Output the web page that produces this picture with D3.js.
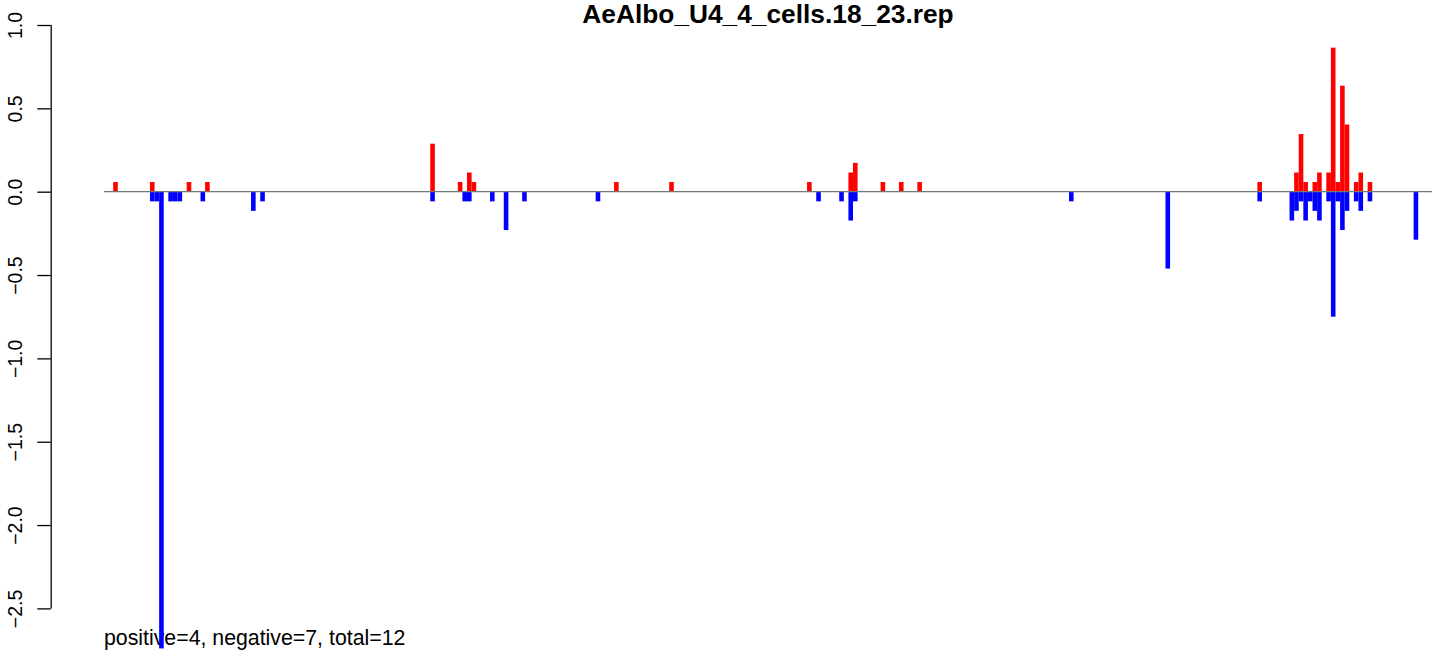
<!DOCTYPE html>
<html>
<head>
<meta charset="utf-8">
<script src="https://cdn.jsdelivr.net/npm/d3@7"></script>
<style>
  html, body { margin: 0; padding: 0; background: #fff; }
  svg { display: block; }
  text { font-family: "Liberation Sans", Arial, Helvetica, sans-serif; }
</style>
</head>
<body>
<svg id="chart" width="1444" height="656"></svg>
<script>
// ---- data ----
const title = "AeAlbo_U4_4_cells.18_23.rep";
const footnote = "positive=4, negative=7, total=12";

// bin index and value of positive (red) bars
const posBins = [0, 8, 16, 20, 69, 75, 77, 78, 109, 121, 151, 160, 161, 167, 171, 175,
                 249, 257, 258, 259, 261, 262, 264, 265, 266, 267, 268, 270, 271, 273];
const posValues = [0.058, 0.058, 0.058, 0.058, 0.288, 0.058, 0.115, 0.058, 0.058, 0.058,
                   0.058, 0.115, 0.173, 0.058, 0.058, 0.058,
                   0.058, 0.115, 0.346, 0.058, 0.058, 0.115, 0.115, 0.864, 0.058, 0.636,
                   0.403, 0.058, 0.115, 0.058];

// bin index and value of negative (blue) bars
const negBins = [8, 9, 10, 12, 13, 14, 19, 30, 32, 69, 76, 77, 82, 85, 89, 105, 153, 158,
                 160, 161, 208, 229, 249, 256, 257, 258, 259, 260, 261, 262, 264, 265,
                 266, 267, 268, 270, 271, 273, 283];
const negValues = [-0.058, -0.058, -2.74, -0.058, -0.058, -0.058, -0.058, -0.115, -0.058,
                   -0.058, -0.058, -0.058, -0.058, -0.23, -0.058, -0.058, -0.058, -0.058,
                   -0.173, -0.058, -0.058, -0.461, -0.058, -0.173, -0.115, -0.058, -0.173,
                   -0.058, -0.115, -0.173, -0.058, -0.75, -0.058, -0.23, -0.115, -0.058,
                   -0.115, -0.058, -0.288];

const yTicks = [-2.5, -2.0, -1.5, -1.0, -0.5, 0.0, 0.5, 1.0];
const yTickLabels = ["\u22122.5", "\u22122.0", "\u22121.5", "\u22121.0", "\u22120.5", "0.0", "0.5", "1.0"];

// ---- drawing ----
const svg = d3.select("#chart");

const x = d3.scaleLinear().domain([-2, 287]).range([104, 1432]);
const y = d3.scaleLinear().domain([-2.5, 1.0]).range([608.4, 25]);
const bw = x(1) - x(0);

// title
svg.append("text")
  .attr("x", (x.range()[0] + x.range()[1]) / 2)
  .attr("y", 23)
  .attr("text-anchor", "middle")
  .attr("font-weight", "bold")
  .attr("font-size", 26.3)
  .attr("fill", "#000")
  .text(title);

// footnote (drawn before bars: bars overlap it)
svg.append("text")
  .attr("x", 104)
  .attr("y", 645)
  .attr("font-size", 21.3)
  .attr("fill", "#000")
  .text(footnote);

// y axis
const yAxis = d3.axisLeft(y)
  .tickValues(yTicks)
  .tickFormat((d, i) => yTickLabels[i])
  .tickSize(13.4)
  .tickSizeOuter(0)
  .tickPadding(0);

const gy = svg.append("g")
  .attr("transform", "translate(50.7,0)")
  .call(yAxis);
gy.select(".domain").attr("stroke", "#000").attr("stroke-width", 1.3)
  .attr("d", `M0.5,${y(1.0)}V${y(-2.5)}`);
gy.selectAll(".tick line").attr("stroke", "#000").attr("stroke-width", 1.3);
gy.selectAll(".tick text")
  .attr("font-size", 19.5)
  .attr("fill", "#000")
  .attr("text-anchor", "middle")
  .attr("transform", "translate(-29,0) rotate(-90)")
  .attr("x", 0)
  .attr("y", 0)
  .attr("dy", 0);

// bars
const posData = posBins.map((b, i) => ({ b, v: posValues[i] }));
const negData = negBins.map((b, i) => ({ b, v: negValues[i] }));

svg.append("g").selectAll("rect").data(posData).join("rect")
  .attr("x", d => x(d.b))
  .attr("width", bw)
  .attr("y", d => y(d.v))
  .attr("height", d => y(0) - y(d.v))
  .attr("fill", "#ff0000");

svg.append("g").selectAll("rect").data(negData).join("rect")
  .attr("x", d => x(d.b))
  .attr("width", bw)
  .attr("y", y(0))
  .attr("height", d => y(d.v) - y(0))
  .attr("fill", "#0000ff");

// zero line
svg.append("line")
  .attr("x1", x(-2)).attr("x2", x(287))
  .attr("y1", y(0)).attr("y2", y(0))
  .attr("stroke", "#777").attr("stroke-width", 1.3);
</script>
</body>
</html>
